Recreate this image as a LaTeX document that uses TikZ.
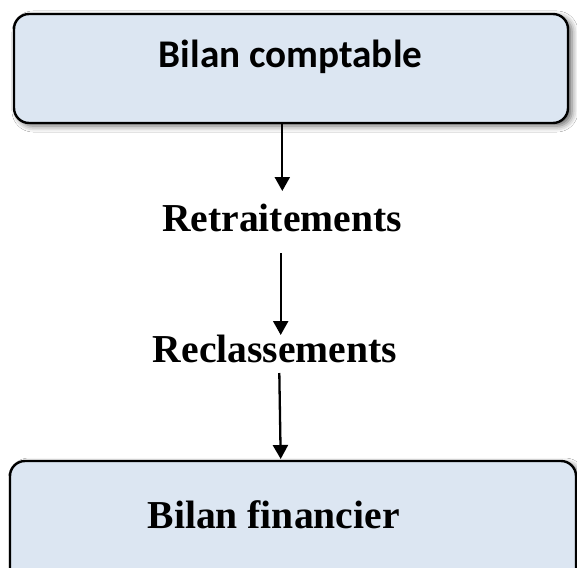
\documentclass[tikz,border=0pt]{standalone}
\usepackage{fontspec}
\setmainfont{Liberation Serif}
\newfontfamily\calib{Carlito}
\usetikzlibrary{arrows.meta,shadows.blur}
\definecolor{boxfill}{RGB}{220,230,242}
\tikzset{
  boxstyle/.style={draw=black, line width=2.4pt, fill=boxfill, rounded corners=15pt,
    inner sep=0pt, blur shadow={shadow xshift=4pt, shadow yshift=-3pt, shadow blur radius=6pt, shadow opacity=60}},
  lab/.style={inner sep=0pt, anchor=base, font=\fontsize{39.6}{44}\selectfont\bfseries},
  arr/.style={line width=2.3pt, -{Triangle[width=15pt,length=14pt]}}
}
\begin{document}
\begin{tikzpicture}[x=1pt,y=-1pt]
\clip (0,0) rectangle (577,567);
\fill[white] (0,0) rectangle (577,567);
% boxes
\node[boxstyle, minimum width=554pt, minimum height=109pt] (top) at (291,68.5) {};
\node[boxstyle, minimum width=566pt, minimum height=160pt] (bot) at (293,541) {};
% labels
\node[lab, font=\fontsize{39.2}{44}\selectfont\calib\bfseries] (toplab) at (290.5,67.3) {Bilan comptable};
\node[lab] (retr) at (282,231) {Retraitements};
\node[lab] (recl) at (275,362.7) {Reclassements};
\node[lab] (botlab) at (273.6,528) {Bilan financier};
% connector points
\coordinate (a1) at (282.3,191);
\coordinate (a2s) at (280.7,253);
\coordinate (a2) at (280.7,335);
\coordinate (a3s) at (279.3,373);
\coordinate (a3) at (280.7,459);
% arrows
\draw[arr] (top.south -| a1) -- (a1);
\draw[arr] (a2s) -- (a2);
\draw[arr] (a3s) -- (a3);
\end{tikzpicture}
\end{document}
